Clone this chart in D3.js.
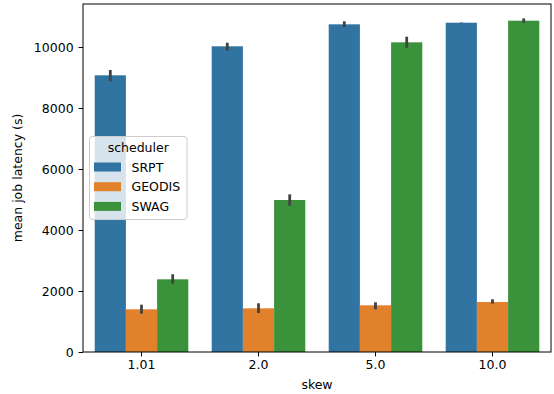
<!DOCTYPE html>
<html>
<head>
  <style>
    body{
      margin:0;
      background:#fff;
    }
    text{
      font-family: "DejaVu Sans", sans-serif;
      font-size: 12.5px;
      fill: #000;
    }
    .bar-err{
      stroke: #424242;
      stroke-width: 2.8px;
    }
    .legend-box{
      fill: #fff;
      fill-opacity: 0.8;
      stroke: #ccc;
      stroke-width: 1px;
    }
  </style>
  <script src="https://d3js.org/d3.v7.min.js"></script>
</head>
<body>
<div class="chart-container"></div>
<script>
const skews = ['1.01', '2.0', '5.0', '10.0'];
const schedulers = ['SRPT', 'GEODIS', 'SWAG'];
const colors = ['#3274a1', '#e1812c', '#3a923a'];

// mean latency, one entry per skew
const srptMean = [9072, 10023, 10744, 10797];
const geodisMean = [1400, 1432, 1531, 1639];
const swagMean = [2383, 4984, 10154, 10863];

// confidence interval [low, high]
const srptCi = [[8875, 9246], [9879, 10141], [10646, 10843], [10790, 10805]];
const geodisCi = [[1256, 1551], [1279, 1597], [1400, 1630], [1584, 1728]];
const swagCi = [[2240, 2548], [4797, 5170], [9977, 10338], [10797, 10940]];

const yTicks = [0, 2000, 4000, 6000, 8000, 10000];

window.onload = ()=>{
  const width = 554;
  const height = 394;
  const margin = {top: 4, right: 3, bottom: 42, left: 83};

  const svg = d3.select('.chart-container')
    .append('svg')
    .attr('width', width)
    .attr('height', height);

  const means = [srptMean, geodisMean, swagMean];
  const cis = [srptCi, geodisCi, swagCi];

  const bars = [];
  schedulers.forEach((s, i)=>{
    skews.forEach((k, j)=>{
      bars.push({skew: k, scheduler: s, idx: i, value: means[i][j], ci: cis[i][j]});
    });
  });

  const x = d3.scaleBand()
    .domain(skews)
    .range([margin.left, width - margin.right])
    .paddingInner(0.2)
    .paddingOuter(0.1);

  const xInner = d3.scaleBand()
    .domain(schedulers)
    .range([0, x.bandwidth()]);

  const y = d3.scaleLinear()
    .domain([0, 11410])
    .range([height - margin.bottom, margin.top]);

  svg.append('g')
    .selectAll('rect')
    .data(bars)
    .join('rect')
    .attr('x', d=>x(d.skew) + xInner(d.scheduler))
    .attr('y', d=>y(d.value))
    .attr('width', xInner.bandwidth())
    .attr('height', d=>y(0) - y(d.value))
    .attr('fill', d=>colors[d.idx]);

  svg.append('g')
    .selectAll('line')
    .data(bars)
    .join('line')
    .attr('class', 'bar-err')
    .attr('x1', d=>x(d.skew) + xInner(d.scheduler) + xInner.bandwidth()/2)
    .attr('x2', d=>x(d.skew) + xInner(d.scheduler) + xInner.bandwidth()/2)
    .attr('y1', d=>y(d.ci[0]))
    .attr('y2', d=>y(d.ci[1]));

  // axes
  const xAxis = svg.append('g')
    .attr('transform', `translate(0,${height - margin.bottom})`)
    .call(d3.axisBottom(x).tickSize(4.4).tickPadding(4).tickSizeOuter(0));
  const yAxis = svg.append('g')
    .attr('transform', `translate(${margin.left},0)`)
    .call(d3.axisLeft(y).tickValues(yTicks).tickFormat(d3.format('d')).tickSize(4.4).tickPadding(5).tickSizeOuter(0));

  [xAxis, yAxis].forEach(g=>{
    g.select('.domain').remove();
    g.selectAll('text').attr('font-family', null).attr('font-size', null).style('fill', '#000');
    g.selectAll('.tick line').attr('stroke', '#000').attr('stroke-width', 1);
  });

  // frame
  svg.append('rect')
    .attr('x', margin.left)
    .attr('y', margin.top)
    .attr('width', width - margin.left - margin.right)
    .attr('height', height - margin.top - margin.bottom)
    .attr('fill', 'none')
    .attr('stroke', '#000')
    .attr('stroke-width', 1);

  svg.append('text')
    .attr('x', (margin.left + width - margin.right)/2)
    .attr('y', 389)
    .attr('text-anchor', 'middle')
    .text('skew');

  svg.append('text')
    .attr('transform', `translate(22,${(margin.top + height - margin.bottom)/2}) rotate(-90)`)
    .attr('text-anchor', 'middle')
    .text('mean job latency (s)');

  // legend
  const legend = svg.append('g')
    .attr('transform', 'translate(89.5,136.5)');
  legend.append('rect')
    .attr('class', 'legend-box')
    .attr('width', 97.5)
    .attr('height', 83)
    .attr('rx', 3);
  legend.append('text')
    .attr('x', 48.75)
    .attr('y', 15.5)
    .attr('text-anchor', 'middle')
    .text('scheduler');
  const item = legend.selectAll('.legend-item')
    .data(schedulers)
    .join('g')
    .attr('class', 'legend-item')
    .attr('transform', (d, i)=>`translate(0,${30.5 + i*19.7})`);
  item.append('rect')
    .attr('x', 4.5)
    .attr('y', -4.5)
    .attr('width', 27)
    .attr('height', 9)
    .attr('fill', (d, i)=>colors[i]);
  item.append('text')
    .attr('x', 42)
    .attr('y', 4.5)
    .text(d=>d);
}
</script>
</body>
</html>
